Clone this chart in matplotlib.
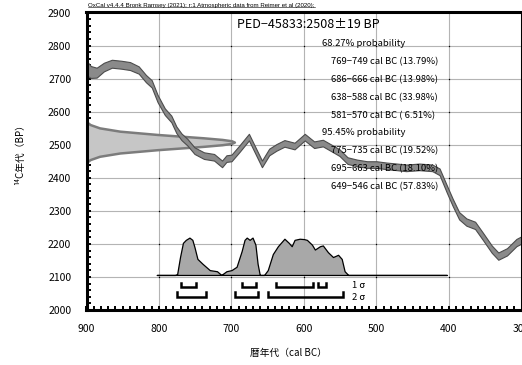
import matplotlib
matplotlib.use("Agg")
import matplotlib.pyplot as plt
from matplotlib.lines import Line2D
from matplotlib.ticker import MultipleLocator
import numpy as np

plt.rcParams["font.family"] = ["Noto Sans CJK JP", "DejaVu Sans"]

# calibration curve (IntCal20): cal BC, 14C BP, 1 sigma
cal_year = [900, 894, 886, 876, 865, 852, 840, 828, 818, 810, 802, 792, 783,
            776, 769, 761, 751, 738, 724, 713, 707, 700, 689, 676, 666, 658,
            648, 638, 627, 613, 599, 586, 574, 562, 551, 540, 527, 513, 500,
            486, 472, 459, 441, 423, 413, 403, 395, 386, 376, 364, 353, 341,
            332, 320, 307, 300]
cal_bp = [2732, 2720, 2718, 2735, 2745, 2742, 2738, 2726, 2700, 2684, 2640,
          2600, 2578, 2545, 2524, 2508, 2482, 2467, 2462, 2442, 2458, 2460,
          2488, 2523, 2478, 2442, 2478, 2492, 2504, 2496, 2523, 2500, 2505,
          2490, 2476, 2452, 2445, 2440, 2440, 2436, 2433, 2430, 2433, 2430,
          2418, 2366, 2326, 2285, 2266, 2256, 2222, 2184, 2163, 2176, 2204,
          2212]
cal_sig = [22, 18, 15, 13, 12, 12, 12, 11, 11, 11, 11, 10, 10, 10, 10, 10,
           10, 10, 10, 10, 10, 10, 10, 10, 10, 10, 10, 10, 10, 10, 10, 10,
           10, 10, 10, 10, 10, 10, 10, 10, 10, 10, 10, 10, 10, 11, 11, 11,
           11, 11, 11, 11, 11, 11, 11, 11]

# measured date 2508 +/- 19 BP, profile width (years from the axis)
meas_bp = [2450, 2455, 2465, 2475, 2485, 2495, 2500, 2504, 2508, 2512, 2516,
           2521, 2531, 2541, 2551, 2561, 2566]
meas_w = [2, 5, 18, 46, 98, 161, 187, 200, 204, 200, 187, 161, 98, 46, 18, 5, 2]

# calibrated probability (relative height)
prob_year = [803, 778, 775, 771, 767, 763, 758, 754, 751, 747, 740, 730, 720,
             714, 707, 700, 693, 686, 682, 679, 675, 671, 667, 664, 661, 655,
             650, 643, 636, 627, 621, 617, 613, 606, 600, 596, 589, 585, 578,
             574, 567, 560, 553, 548, 544, 539, 403]
prob_h = [0, 0, 0.02, 0.48, 0.86, 0.94, 1.0, 0.94, 0.74, 0.43, 0.30, 0.13,
          0.10, 0.0, 0.10, 0.13, 0.22, 0.64, 0.94, 1.0, 0.94, 1.0, 0.81, 0.30,
          0.0, 0.0, 0.13, 0.56, 0.77, 0.97, 0.86, 0.77, 0.94, 0.97, 0.96, 0.94,
          0.81, 0.68, 0.77, 0.79, 0.61, 0.48, 0.54, 0.43, 0.10, 0.0, 0.0]

sigma1 = [(769, 749), (686, 666), (638, 588), (581, 570)]
sigma2 = [(775, 735), (695, 663), (649, 546)]

label = "PED−45833:2508±19 BP"
lines68 = ["769−749 cal BC (13.79%)", "686−666 cal BC (13.98%)",
           "638−588 cal BC (33.98%)", "581−570 cal BC ( 6.51%)"]
lines95 = ["775−735 cal BC (19.52%)", "695−663 cal BC (18.10%)",
           "649−546 cal BC (57.83%)"]

W, H = 522, 365
fig = plt.figure(figsize=(W / 100, H / 100), dpi=100)
ax = fig.add_axes([86.5 / W, 1 - 310 / H, 435 / W, 297.5 / H])
ax.set_xlim(900, 300)
ax.set_ylim(2000, 2900)

# grid
for gx in range(400, 900, 100):
    ax.axvline(gx, color="#b4b4b4", lw=0.8, zorder=1)
for gy in range(2100, 2900, 100):
    ax.axhline(gy, color="#b4b4b4", lw=0.8, zorder=1)
gx, gy = np.meshgrid(np.arange(400, 900, 100), np.arange(2100, 2900, 100))
ax.plot(gx.ravel(), gy.ravel(), ls="none", marker="s", ms=0.9, mew=0,
        color="black", zorder=1.5)

# measurement on the y axis
ax.fill_betweenx(meas_bp, 900, 900 - np.array(meas_w), facecolor="#c6c6c6",
                 edgecolor="#7c7c7c", lw=1.8, zorder=2)

# calibration curve
bp = np.array(cal_bp)
sig = np.array(cal_sig)
ax.fill_between(cal_year, bp - sig, bp + sig, facecolor="#8a8a8a",
                edgecolor="#4c4c4c", lw=0.8, zorder=3)

# calibrated distribution
base, scale = 2106, 113
ax.fill_between(prob_year, base, base + np.array(prob_h) * scale,
                facecolor="#a8a8a8", edgecolor="black", lw=0.9, zorder=4)

# range brackets
for (a, b) in sigma1:
    ax.plot([a, a, b, b], [2082, 2070, 2070, 2082], color="black", lw=1.8,
            solid_joinstyle="miter", zorder=5)
for (a, b) in sigma2:
    ax.plot([a, a, b, b], [2055, 2040, 2040, 2055], color="black", lw=1.8,
            solid_joinstyle="miter", zorder=5)
ax.text(534, 2073, "1 σ", fontsize=6.8, va="center", ha="left")
ax.text(534, 2037, "2 σ", fontsize=6.8, va="center", ha="left")

# text block
def px(xp, yp):
    return xp / W, 1 - yp / H

fig.text(*px(237, 24), label, fontsize=9, va="center", ha="left")
fig.text(*px(322, 43), "68.27% probability", fontsize=6.8, va="center")
for i, s in enumerate(lines68):
    fig.text(*px(331, 62 + i * 17.8), s, fontsize=6.8, va="center")
fig.text(*px(322, 133), "95.45% probability", fontsize=6.8, va="center")
for i, s in enumerate(lines95):
    fig.text(*px(331, 151 + i * 17.6), s, fontsize=6.8, va="center")

# axes styling
for sp in ax.spines.values():
    sp.set_linewidth(2.2)
    sp.set_zorder(6)
ax.xaxis.set_major_locator(MultipleLocator(100))
ax.xaxis.set_minor_locator(MultipleLocator(10))
ax.yaxis.set_major_locator(MultipleLocator(100))
ax.yaxis.set_minor_locator(MultipleLocator(20))
ax.tick_params(which="both", direction="in", width=1.4, length=3,
               top=False, right=False)
ax.tick_params(axis="x", which="major", labelsize=7.5, pad=10)
ax.tick_params(axis="y", which="major", labelsize=7.5, pad=11)
ax.set_xticks(range(300, 901, 100))

fig.text(*px(20, 152), "¹⁴C年代（BP）", rotation=90, fontsize=7,
         ha="center", va="center")
fig.text(*px(288, 353), "暦年代（cal BC）", fontsize=7, ha="center",
         va="center")

t = fig.text(*px(88, 5), "OxCal v4.4.4 Bronk Ramsey (2021); r:1 Atmospheric "
             "data from Reimer et al (2020);", fontsize=4.4, va="center",
             ha="left", family=["Liberation Sans", "DejaVu Sans"])
fig.canvas.draw()
bb = t.get_window_extent().transformed(fig.transFigure.inverted())
fig.add_artist(Line2D([bb.x0, bb.x1], [bb.y0 + 0.002] * 2, lw=0.4,
                      color="black"))

fig.savefig("out.png", dpi=100)
